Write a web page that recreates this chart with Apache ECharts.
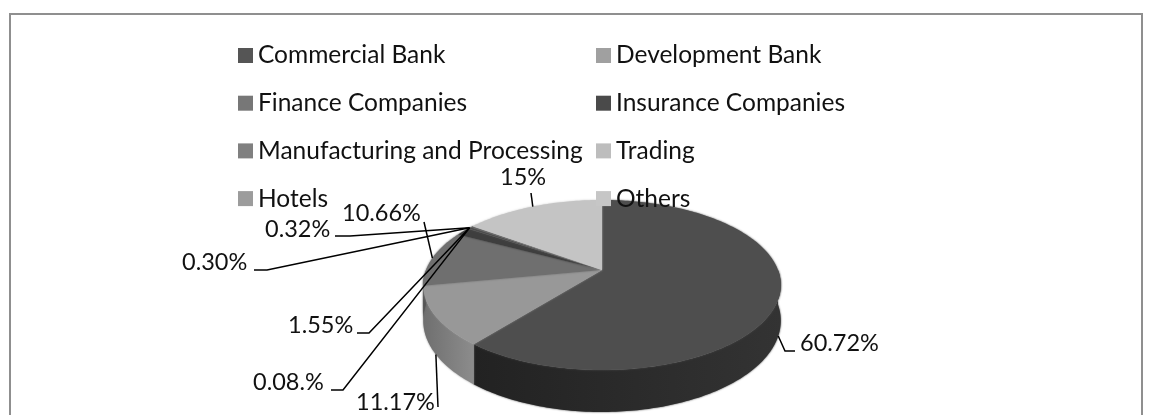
<!DOCTYPE html>
<html><head><meta charset="utf-8">
<style>html,body{margin:0;padding:0;background:#fff}#c{width:1150px;height:415px}</style>
<script src="https://cdn.jsdelivr.net/npm/echarts@6/dist/echarts.min.js"></script>
</head><body><div id="c"></div>
<script>
const categories = ["Commercial Bank","Development Bank","Finance Companies","Insurance Companies","Manufacturing and Processing","Trading","Hotels","Others"];
const values = [60.72,11.17,10.66,1.55,0.08,0.30,0.32,15];
const valueLabels = ["60.72%","11.17%","10.66%","1.55%","0.08.%","0.30%","0.32%","15%"];

const legendColors = ["#555555","#a0a0a0","#777777","#4a4a4a","#808080","#bdbdbd","#9c9c9c","#c6c6c6"];
const topColors = ["#4e4e4e","#989898","#6f6f6f","#3e3e3e","#4a4a4a","#4a4a4a","#555555","#c4c4c4"];
const wallColors = [["#333333","#222222"],["#8c8c8c","#6f6f6f"],["#555","#555"],["#333","#333"],["#666","#666"],["#777","#777"],["#777","#777"],["#999","#999"]];

// projection of the tilted disc
const geo = {cx:602, cy:270, R:176, S:82.4, k:0.176, D:34.6};
function rim(f, wall){
  const a = f*2*Math.PI, X = Math.sin(a), Z = Math.cos(a), d = 1+geo.k*Z;
  return [geo.cx+geo.R*X/d, geo.cy-geo.S*Z/d+(wall?geo.D/d:0)];
}
const total = values.reduce((s,v)=>s+v,0);
const starts = []; values.reduce((s,v,i)=>(starts[i]=s,s+v),0);

// label placement: text origin, leader anchor kind, elbow points
const labelLayout = [
 {x:800,y:343,anchor:'wall',via:[[785,351],[795,351]]},
 {x:356,y:402,anchor:'wall',via:[[438,407]]},
 {x:342,y:213,anchor:'top',via:[[424,222]]},
 {x:288,y:325,anchor:'hub',via:[[369,333],[357,333]]},
 {x:253,y:382,anchor:'hub',via:[[343,390],[331,390]]},
 {x:182,y:262,anchor:'hub',via:[[267,270],[254,270]]},
 {x:265,y:229,anchor:'hub',via:[[350,236],[335,236]]},
 {x:500,y:177,anchor:'top',via:[[531,193]]}
];
const FONT = 'Lato';
const hubFraction = 0.845;

function renderSlice(params, api){
  const i = params.seriesIndex, v = api.value(0);
  const f0 = starts[i]/total, f1 = (starts[i]+v)/total, n = Math.max(2,Math.ceil((f1-f0)*360));
  const top = [[geo.cx,geo.cy]];
  for(let j=0;j<=n;j++) top.push(rim(f0+(f1-f0)*j/n));
  const children = [];
  const w0 = Math.max(f0,0.25), w1 = Math.min(f1,0.75);
  if(w1>w0){
    const up=[],down=[], m=Math.ceil((w1-w0)*360);
    for(let j=0;j<=m;j++){const f=w0+(w1-w0)*j/m; up.push(rim(f)); down.unshift(rim(f,true));}
    children.push({type:'polygon',z2:1,shape:{points:up.concat(down)},
      style:{fill:new echarts.graphic.LinearGradient(0,0,1,0,[{offset:0,color:wallColors[i][1]},{offset:1,color:wallColors[i][0]}]),shadowBlur:2,shadowColor:wallColors[i][0]}});
  }
  children.push({type:'polygon',z2:2,shape:{points:top},style:{fill:topColors[i],shadowBlur:2,shadowColor:topColors[i]}});
  const L = labelLayout[i], mid=(f0+f1)/2;
  const start = L.anchor==='hub'?rim(hubFraction):rim(mid,L.anchor==='wall');
  children.push({type:'polyline',z2:5,shape:{points:[start].concat(L.via)},style:{fill:'none',stroke:'#000',lineWidth:1.5}});
  children.push({type:'text',z2:6,x:L.x,y:L.y,style:{text:valueLabels[i],fill:'#111',font:'23.5px '+FONT,verticalAlign:'middle',align:'left'}});
  return {type:'group',children};
}

const chart = echarts.init(document.getElementById('c'),null,{renderer:'canvas'});
const legendBase = {orient:'vertical',itemWidth:15,itemHeight:15,itemGap:22.7,selectedMode:false,icon:'rect',padding:0,
  textStyle:{fontFamily:FONT,fontSize:24.5,color:'#111',lineHeight:24}};
chart.setOption({
  animation:false,
  backgroundColor:'#fff',
  graphic:[{type:'rect',z:0,shape:{x:10,y:14,width:1132,height:600},style:{fill:'none',stroke:'#8f8f8f',lineWidth:2}}],
  legend:[
    Object.assign({},legendBase,{left:238,top:43,data:[categories[0],categories[2],categories[4],categories[6]]}),
    Object.assign({},legendBase,{left:596,top:43,data:[categories[1],categories[3],categories[5],categories[7]]})
  ],
  series:categories.map((c,i)=>({type:'custom',name:c,coordinateSystem:'none',renderItem:renderSlice,
    itemStyle:{color:legendColors[i]},data:[[values[i]]]}))
});
</script></body></html>
